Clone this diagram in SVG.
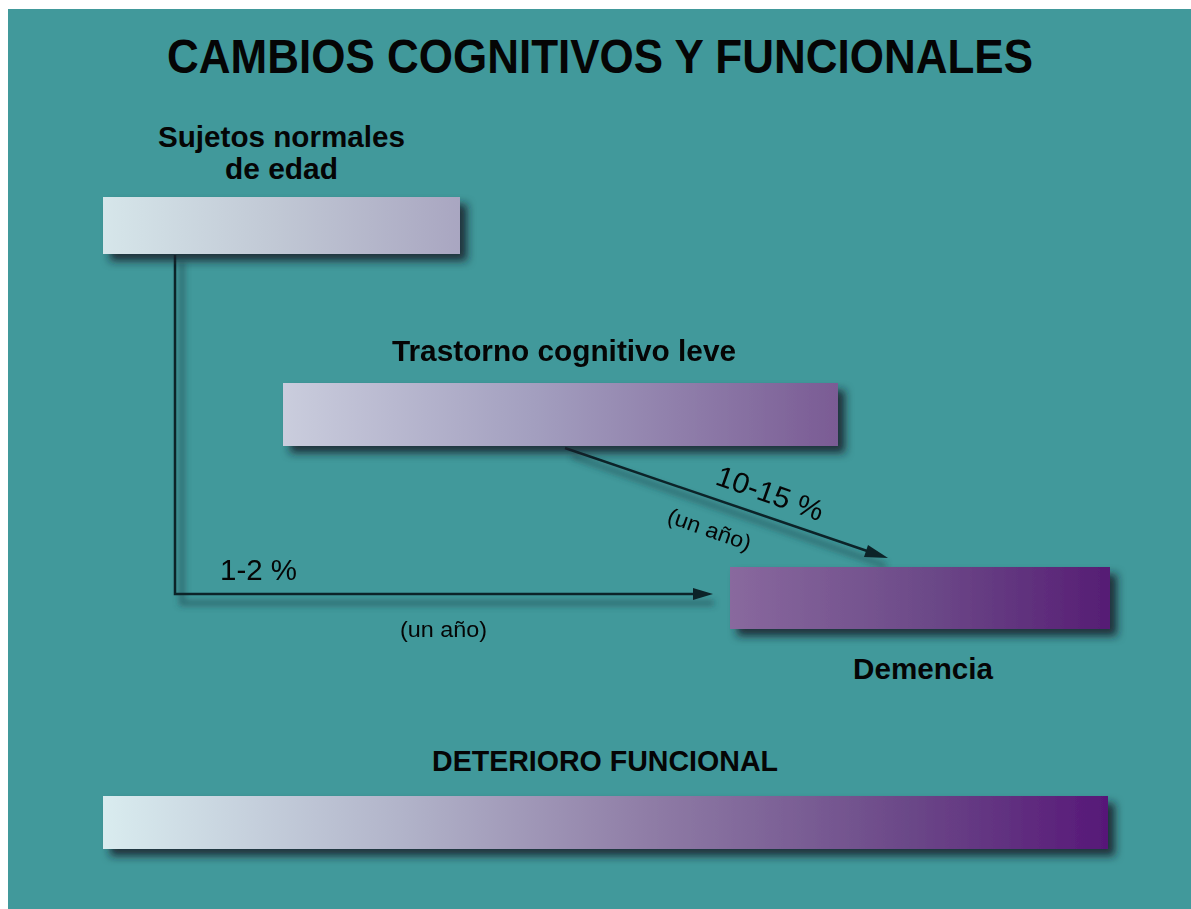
<svg xmlns="http://www.w3.org/2000/svg" width="1191" height="909" viewBox="0 0 1191 909">
<style>
  .t { font-family: "Liberation Sans", Arial, sans-serif; fill: #050505; }
  .b { font-weight: bold; }
  .ln { stroke: #0c2328; stroke-width: 2.5; fill: none; }
  .lnsh { stroke: #22454b; stroke-width: 5; fill: none; opacity: 0.6; }
</style>
<defs>
  <linearGradient id="g1" x1="0" y1="0" x2="1" y2="0">
    <stop offset="0" stop-color="#d6e6ea"/>
    <stop offset="0.5" stop-color="#c0c7d4"/>
    <stop offset="1" stop-color="#a9a6c1"/>
  </linearGradient>
  <linearGradient id="g2" x1="0" y1="0" x2="1" y2="0">
    <stop offset="0" stop-color="#cacddd"/>
    <stop offset="0.45" stop-color="#a39fbf"/>
    <stop offset="1" stop-color="#7a5b94"/>
  </linearGradient>
  <linearGradient id="g3" x1="0" y1="0" x2="1" y2="0">
    <stop offset="0" stop-color="#89699e"/>
    <stop offset="0.5" stop-color="#6d4b89"/>
    <stop offset="1" stop-color="#561d74"/>
  </linearGradient>
  <linearGradient id="g4" x1="0" y1="0" x2="1" y2="0">
    <stop offset="0" stop-color="#d9ecef"/>
    <stop offset="0.3" stop-color="#b1b3c9"/>
    <stop offset="0.55" stop-color="#8e7ba5"/>
    <stop offset="0.8" stop-color="#6b4888"/>
    <stop offset="1" stop-color="#571878"/>
  </linearGradient>
  <filter id="sh" x="-5%" y="-30%" width="115%" height="190%">
    <feDropShadow dx="7" dy="7" stdDeviation="4" flood-color="#14222a" flood-opacity="0.85"/>
  </filter>
  <filter id="blur" x="-5%" y="-5%" width="110%" height="110%">
    <feGaussianBlur stdDeviation="3"/>
  </filter>
</defs>

<rect x="0" y="0" width="1191" height="909" fill="#ffffff"/>
<rect x="8" y="9" width="1183" height="900" fill="#41999b"/>

<text id="title" class="t b" x="167" y="73" font-size="48" textLength="866" lengthAdjust="spacingAndGlyphs">CAMBIOS COGNITIVOS Y FUNCIONALES</text>

<g id="connectors">
  <g filter="url(#blur)">
    <polyline class="lnsh" points="182,262 182,603 714,603"/>
    <line class="lnsh" x1="572" y1="456" x2="886" y2="566"/>
  </g>
  <polyline class="ln" points="175,255 175,594 700,594"/>
  <path d="M693,588 L713,594 L693,600 z" fill="#0c2328"/>
  <line class="ln" x1="565" y1="448" x2="876" y2="554"/>
  <path d="M868,545 L888,558 L864,557 z" fill="#0c2328"/>
  <text class="t" x="220" y="580" font-size="29" textLength="77" lengthAdjust="spacingAndGlyphs">1-2 %</text>
  <text class="t" x="400" y="637" font-size="22" textLength="87" lengthAdjust="spacingAndGlyphs">(un año)</text>
  <text class="t" transform="translate(714,484) rotate(19.5)" x="0" y="0" font-size="29" textLength="112" lengthAdjust="spacingAndGlyphs">10-15 %</text>
  <text class="t" transform="translate(666,522) rotate(19.5)" x="0" y="0" font-size="22" textLength="87" lengthAdjust="spacingAndGlyphs">(un año)</text>
</g>

<g id="normales">
  <rect x="103" y="197" width="357" height="57" fill="url(#g1)" filter="url(#sh)"/>
  <text class="t b" x="158" y="147" font-size="29" textLength="247" lengthAdjust="spacingAndGlyphs">Sujetos normales</text>
  <text class="t b" x="225" y="179" font-size="29" textLength="113" lengthAdjust="spacingAndGlyphs">de edad</text>
</g>

<g id="tcl">
  <rect x="283" y="383" width="555" height="63" fill="url(#g2)" filter="url(#sh)"/>
  <text class="t b" x="392" y="361" font-size="29" textLength="344" lengthAdjust="spacingAndGlyphs">Trastorno cognitivo leve</text>
</g>

<g id="demencia">
  <rect x="730" y="567" width="380" height="62" fill="url(#g3)" filter="url(#sh)"/>
  <text class="t b" x="853" y="679" font-size="29" textLength="140" lengthAdjust="spacingAndGlyphs">Demencia</text>
</g>

<g id="deterioro">
  <rect x="103" y="796" width="1005" height="53" fill="url(#g4)" filter="url(#sh)"/>
  <text class="t b" x="432" y="771" font-size="29" textLength="346" lengthAdjust="spacingAndGlyphs">DETERIORO FUNCIONAL</text>
</g>
</svg>
